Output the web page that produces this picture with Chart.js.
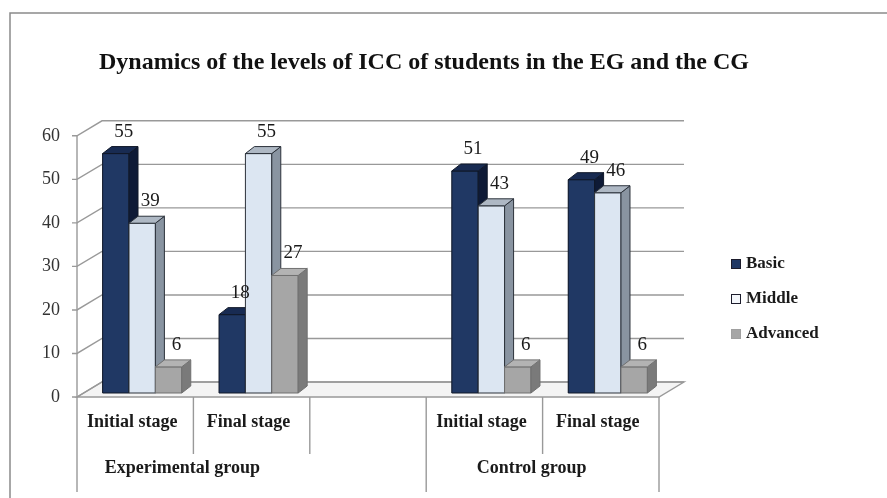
<!DOCTYPE html>
<html>
<head>
<meta charset="utf-8">
<title>Dynamics of the levels of ICC</title>
<script src="https://cdn.jsdelivr.net/npm/chart.js@4.4.1/dist/chart.umd.min.js"></script>
<style>
  html, body { margin: 0; padding: 0; background: #fff; }
</style>
</head>
<body>
<canvas id="iccChart" width="887" height="498"></canvas>
<script>
// categories (third one is the empty gap between the two groups)
const stages = ['Initial stage', 'Final stage', '', 'Initial stage', 'Final stage'];
const groups = ['Experimental group', 'Control group'];
const groupStart = [0, 3];            // first category of each group
const groupLabelCats = [[0, 1], [3, 4]];

const seriesNames = ['Basic', 'Middle', 'Advanced'];
const basic = [55, 18, null, 51, 49];
const middle = [39, 55, null, 43, 46];
const advanced = [6, 27, null, 6, 6];

const SERIF = "'Liberation Serif', 'Times New Roman', serif";

// fake 3d offsets, relative to the bar front faces
const barDepth = { dx: 9, dy: -7 };
const wallShift = { dx: 18, dy: -11 };
const floorShift = { dx: -7, dy: 4 };

const faces = [
    { front: '#203864', top: '#182b52', side: '#0e1a36', edge: '#101828' },
    { front: '#dce6f2', top: '#aeb8c4', side: '#8994a1', edge: '#2c323b' },
    { front: '#a6a6a6', top: '#b3b3b3', side: '#7a7a7a', edge: '#707070' }
];

const box3d = {
    id: 'box3d',
    beforeDraw(chart) {
        const ctx = chart.ctx;
        ctx.save();
        ctx.fillStyle = '#fff';
        ctx.fillRect(0, 0, chart.width, chart.height);
        // outer frame
        ctx.strokeStyle = '#8a8a8a';
        ctx.lineWidth = 1.5;
        ctx.beginPath();
        ctx.moveTo(10, chart.height);
        ctx.lineTo(10, 13);
        ctx.lineTo(chart.width, 13);
        ctx.stroke();
        ctx.restore();
    },
    beforeDatasetsDraw(chart) {
        const { ctx, chartArea: a, scales: { x, y } } = chart;
        const y0 = y.getPixelForValue(0);
        const fl = a.left + floorShift.dx, fr = a.right + floorShift.dx;
        const bl = a.left + wallShift.dx, br = a.right + wallShift.dx;
        const fy = y0 + floorShift.dy;
        ctx.save();

        // floor
        ctx.fillStyle = '#f4f4f4';
        ctx.beginPath();
        ctx.moveTo(fl, fy);
        ctx.lineTo(fr, fy);
        ctx.lineTo(br, y0 + wallShift.dy);
        ctx.lineTo(bl, y0 + wallShift.dy);
        ctx.closePath();
        ctx.fill();
        ctx.strokeStyle = '#999';
        ctx.lineWidth = 1.4;
        ctx.stroke();

        // gridlines on back wall + side wall + tick marks
        y.ticks.forEach(t => {
            const py = y.getPixelForValue(t.value);
            ctx.beginPath();
            ctx.moveTo(fl - 5, py + floorShift.dy);
            ctx.lineTo(fl, py + floorShift.dy);
            ctx.lineTo(bl, py + wallShift.dy);
            ctx.lineTo(br, py + wallShift.dy);
            ctx.stroke();
        });
        ctx.beginPath();
        ctx.moveTo(fl, y.getPixelForValue(y.max) + floorShift.dy);
        ctx.lineTo(fl, fy);
        ctx.stroke();

        // category separators below the floor
        const w = (a.right - a.left) / stages.length;
        for (let k = 0; k <= stages.length; k++) {
            const isLong = k === stages.length || groupStart.includes(k);
            const px = fl + k * w;
            ctx.beginPath();
            ctx.moveTo(px, fy);
            ctx.lineTo(px, fy + (isLong ? 95 : 57));
            ctx.stroke();
        }

        // group labels
        ctx.fillStyle = '#1a1a1a';
        ctx.font = 'bold 18px ' + SERIF;
        ctx.textAlign = 'center';
        ctx.textBaseline = 'middle';
        groups.forEach((g, j) => {
            const [c0, c1] = groupLabelCats[j];
            const cx = (x.getPixelForValue(c0) + x.getPixelForValue(c1)) / 2 + floorShift.dx - 11;
            ctx.fillText(g, cx, fy + 71);
        });
        ctx.restore();
    },
    afterDatasetsDraw(chart) {
        const ctx = chart.ctx;
        const metas = chart.data.datasets.map((ds, d) => chart.getDatasetMeta(d));
        ctx.save();
        ctx.lineWidth = 1;
        ctx.lineJoin = 'round';
        // draw per category, Basic first so the next bar hides its side face
        for (let i = 0; i < stages.length; i++) {
            metas.forEach((meta, d) => {
                const v = chart.data.datasets[d].data[i];
                if (v === null || v === undefined) return;
                const { x, y, base, width } = meta.data[i].getProps(['x', 'y', 'base', 'width'], true);
                const l = x - width / 2, r = x + width / 2;
                const f = faces[d];
                ctx.strokeStyle = f.edge;

                ctx.fillStyle = f.front;
                ctx.fillRect(l, y, width, base - y);
                ctx.strokeRect(l, y, width, base - y);

                ctx.fillStyle = f.side;
                ctx.beginPath();
                ctx.moveTo(r, y);
                ctx.lineTo(r + barDepth.dx, y + barDepth.dy);
                ctx.lineTo(r + barDepth.dx, base + barDepth.dy);
                ctx.lineTo(r, base);
                ctx.closePath();
                ctx.fill();
                ctx.stroke();

                ctx.fillStyle = f.top;
                ctx.beginPath();
                ctx.moveTo(l, y);
                ctx.lineTo(l + barDepth.dx, y + barDepth.dy);
                ctx.lineTo(r + barDepth.dx, y + barDepth.dy);
                ctx.lineTo(r, y);
                ctx.closePath();
                ctx.fill();
                ctx.stroke();
            });
        }

        // value labels
        ctx.fillStyle = '#1a1a1a';
        ctx.font = '19px ' + SERIF;
        ctx.textAlign = 'center';
        ctx.textBaseline = 'middle';
        metas.forEach((meta, d) => {
            chart.data.datasets[d].data.forEach((v, i) => {
                if (v === null || v === undefined) return;
                const { x, y } = meta.data[i].getProps(['x', 'y'], true);
                ctx.fillText(String(v), x + 8, y - 22);
            });
        });
        ctx.restore();
    },
    afterDraw(chart) {
        // legend on the right
        const ctx = chart.ctx;
        ctx.save();
        ctx.font = 'bold 17px ' + SERIF;
        ctx.textBaseline = 'middle';
        ctx.textAlign = 'left';
        chart.data.datasets.forEach((ds, d) => {
            const cy = 264 + d * 35;
            ctx.fillStyle = d === 1 ? '#f4f7fb' : faces[d].front;
            ctx.fillRect(731, cy - 5, 10, 10);
            ctx.strokeStyle = d === 2 ? '#a0a0a0' : '#1c1c2c';
            ctx.lineWidth = 1;
            ctx.strokeRect(731.5, cy - 4.5, 9, 9);
            ctx.fillStyle = '#1a1a1a';
            ctx.fillText(ds.label, 746, cy);
        });
        ctx.restore();
    }
};

const ctx = document.getElementById('iccChart').getContext('2d');
const iccChart = new Chart(ctx, {
    type: 'bar',
    data: {
        labels: stages,
        datasets: [
            { label: seriesNames[0], data: basic, backgroundColor: faces[0].front },
            { label: seriesNames[1], data: middle, backgroundColor: faces[1].front },
            { label: seriesNames[2], data: advanced, backgroundColor: faces[2].front }
        ]
    },
    options: {
        responsive: false,
        animation: false,
        categoryPercentage: 0.68,
        barPercentage: 1.0,
        layout: { padding: { left: 0, right: 39, top: 0, bottom: 0 } },
        plugins: {
            legend: { display: false },
            tooltip: { enabled: false },
            title: {
                display: true,
                text: 'Dynamics of the levels of ICC of students in the EG and the CG',
                color: '#111',
                font: { family: SERIF, size: 24, weight: 'bold' },
                padding: { top: 48, bottom: 55 }
            }
        },
        scales: {
            x: {
                grid: { display: false, drawTicks: false },
                border: { display: false },
                ticks: {
                    color: '#1a1a1a',
                    font: { family: SERIF, size: 18, weight: 'bold' },
                    padding: 19,
                    labelOffset: -10,
                    maxRotation: 0,
                    autoSkip: false
                },
                afterFit(scale) { scale.height = 105; }
            },
            y: {
                min: 0,
                max: 60,
                grid: { display: false, drawTicks: false },
                border: { display: false },
                ticks: {
                    stepSize: 10,
                    color: '#333',
                    font: { family: SERIF, size: 18 },
                    padding: 24,
                    labelOffset: 4
                },
                afterFit(scale) { scale.width = 84; }
            },
            // empty axis only used to keep room for the legend
            y2: {
                position: 'right',
                grid: { display: false, drawTicks: false },
                border: { display: false },
                ticks: { display: false },
                afterFit(scale) { scale.width = 182; }
            }
        }
    },
    plugins: [box3d]
});
</script>
</body>
</html>
